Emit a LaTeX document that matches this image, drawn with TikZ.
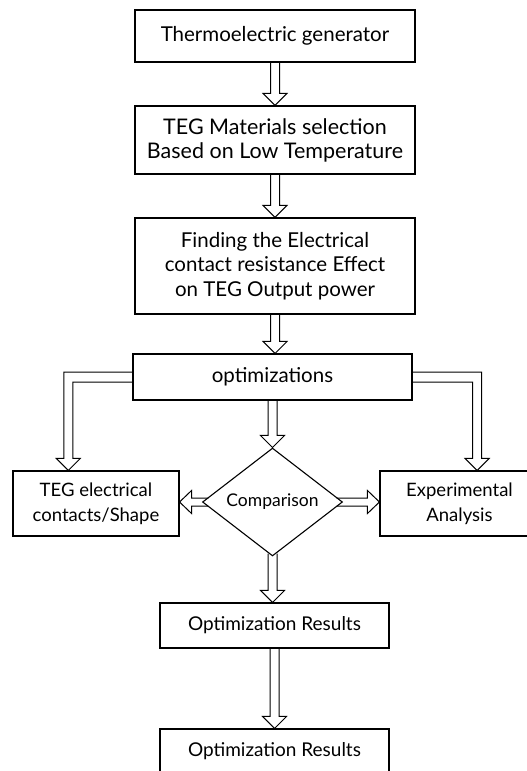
\documentclass[tikz,border=0pt]{standalone}
\usepackage{fontspec}
\setmainfont{Lato}
\usepackage{tikz}
\usetikzlibrary{shapes.geometric,arrows.meta,positioning,calc}

% hollow block arrows, drawn from one named anchor to another
\newcommand{\vfat}[2]{%
  \draw[fat] let \p1=(#1), \p2=(#2) in
    (\x1-4.5pt,\y1) -- (\x1-4.5pt,\y2+12pt) -- (\x1-12pt,\y2+12pt) -- (\x1,\y2)
    -- (\x1+12pt,\y2+12pt) -- (\x1+4.5pt,\y2+12pt) -- (\x1+4.5pt,\y1);}
\newcommand{\hfat}[3]{%
  \draw[fat] let \p1=(#1), \p2=(#2) in
    (\x1,\y1+4pt) -- ({\x2+(#3)*12pt},\y1+4pt) -- ({\x2+(#3)*12pt},\y1+11.5pt) -- (\x2,\y1)
    -- ({\x2+(#3)*12pt},\y1-11.5pt) -- ({\x2+(#3)*12pt},\y1-4pt) -- (\x1,\y1-4pt);}
\newcommand{\lfat}[3]{%
  \draw[fat] let \p1=(#1), \p2=(#2) in
    (\x1,\y1+5pt) -- ({\x2-(#3)*4.5pt},\y1+5pt) -- ({\x2-(#3)*4.5pt},\y2+12pt)
    -- ({\x2-(#3)*12pt},\y2+12pt) -- (\x2,\y2) -- ({\x2+(#3)*12pt},\y2+12pt)
    -- ({\x2+(#3)*4.5pt},\y2+12pt) -- ({\x2+(#3)*4.5pt},\y1-5pt) -- (\x1,\y1-5pt);}

\begin{document}
\begin{tikzpicture}[x=1pt, y=-1pt,
    box/.style={draw, line width=1.1pt, rectangle, inner sep=2pt, align=center,
      font=\fontsize{20.5}{24.5}\selectfont},
    choice/.style={draw, line width=1.1pt, diamond, inner sep=0pt,
      minimum width=140pt, minimum height=92pt, font=\fontsize{17.5}{20}\selectfont},
    fat/.style={draw, line width=1pt, line join=miter}
  ]
  \useasboundingbox (0,0) rectangle (527,771);
  \clip (0,0) rectangle (527,771);

  \node[box, minimum width=280pt, minimum height=52pt] (teg) at (275,36) {Thermoelectric generator};
  \node[box, minimum width=280pt, minimum height=68pt, font=\fontsize{21.5}{24}\selectfont] (mat) at (275,140) {TEG Materials selection\\Based on Low Temperature};
  \node[box, minimum width=280pt, minimum height=96pt] (ecr) at (275,266) {Finding the Electrical\\contact resistance Effect\\on TEG Output power};
  \node[box, minimum width=279pt, minimum height=46pt] (opt) at (272.5,377) {optimizations};
  \node[choice] (cmp) at (272.5,502) {Comparison};
  \node[box, minimum width=166pt, minimum height=65pt, font=\fontsize{18.5}{25}\selectfont] (contacts) at (96,503.5) {TEG electrical\\contacts/Shape};
  \node[box, minimum width=159pt, minimum height=65pt, font=\fontsize{18.5}{25}\selectfont] (expt) at (459.5,503.5) {Experimental\\Analysis};
  \node[box, minimum width=229pt, minimum height=45pt, font=\fontsize{19}{24}\selectfont] (res) at (274.5,625.5) {Optimization Results};
  \node[box, minimum width=229pt, minimum height=45pt, font=\fontsize{19}{24}\selectfont] (final) at (274.5,751.5) {Optimization Results};

  % where the fat arrows meet the boxes
  \coordinate (contactsin) at ($(contacts.north west)!0.334!(contacts.north east)$);
  \coordinate (exptin) at ($(expt.north west)!0.61!(expt.north east)$);
  \coordinate (cmpout) at ($(cmp.south)+(0,-3)$);
  \coordinate (cmpleft) at ($(cmp.west)+(6.5,0)$);
  \coordinate (cmpright) at ($(cmp.east)+(-6.5,0)$);

  \vfat{teg.south}{mat.north}
  \vfat{mat.south}{ecr.north}
  \vfat{ecr.south}{opt.north}
  \vfat{opt.south}{cmp.north}
  \vfat{cmpout}{res.north}
  \vfat{res.south}{final.north}
  \lfat{opt.west}{contactsin}{1}
  \lfat{opt.east}{exptin}{-1}
  \hfat{cmpleft}{contacts.east}{1}
  \hfat{cmpright}{expt.west}{-1}
\end{tikzpicture}
\end{document}
